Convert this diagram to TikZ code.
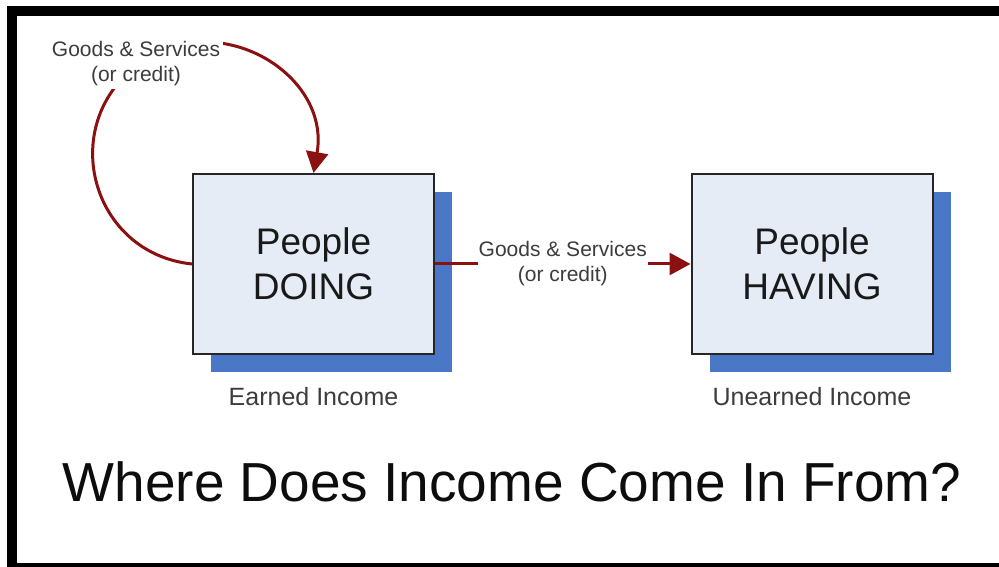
\documentclass[tikz,border=0pt]{standalone}
\usepackage{fontspec}
\setmainfont{Liberation Sans}
\usetikzlibrary{arrows.meta, positioning, shadows}

\definecolor{boxfill}{HTML}{E6ECF6}
\definecolor{shadowblue}{HTML}{4A78C6}
\definecolor{flowred}{HTML}{8B1010}
\definecolor{labelgray}{HTML}{3C3C3C}

\tikzset{
  box/.style={draw=black!85, line width=2pt, fill=boxfill,
    minimum width=241pt, minimum height=180pt, inner sep=0pt,
    align=center, text=black!90, font=\fontsize{37}{45}\selectfont,
    drop shadow={shadow xshift=18pt, shadow yshift=-18pt, fill=shadowblue, opacity=1}},
  note/.style={align=center, text=labelgray, inner sep=1pt,
    font=\fontsize{21}{25}\selectfont},
  income/.style={text=labelgray, inner sep=0pt, font=\fontsize{25}{30}\selectfont},
  headline/.style={text=black!95, inner sep=0pt, font=\fontsize{55}{66}\selectfont},
  flow/.style={draw=flowred, line width=3pt, -{Triangle[length=21pt, width=22pt]}},
}

\begin{document}
\begin{tikzpicture}[x=1pt, y=1pt]
    \useasboundingbox (0,0) rectangle (999,567);

    % Frame, running off the right and bottom edges
    \draw[line width=10pt] (12,-1.5) rectangle (1010,556);

    % The two groups of people
    \foreach \nm/\x/\word/\sub in {doing/313.5/DOING/Earned Income, having/812/HAVING/Unearned Income} {
        \node[box] (\nm) at (\x,303) {People\\\word};
        \node[income, below=32pt of \nm] (\nm-sub) {\sub};
    }

    % Doing feeds back into itself
    \coordinate (loop) at (136,501);
    \draw[flow] (doing.west) to[out=174, in=218, looseness=1.25] (loop)
        to[out=38, in=80, looseness=1.25] (doing.north);
    \node[note, fill=white, inner sep=3pt] (loop-lbl) at (136,503) {Goods \& Services\\(or credit)};

    % Doing hands over to having
    \draw[flow] (doing.east) -- node[note, fill=white] (pass-lbl) {Goods \& Services\\(or credit)} (having.west);

    % Question
    \node[headline, anchor=base] (question) at (512,65) {Where Does Income Come In From?};
\end{tikzpicture}
\end{document}
